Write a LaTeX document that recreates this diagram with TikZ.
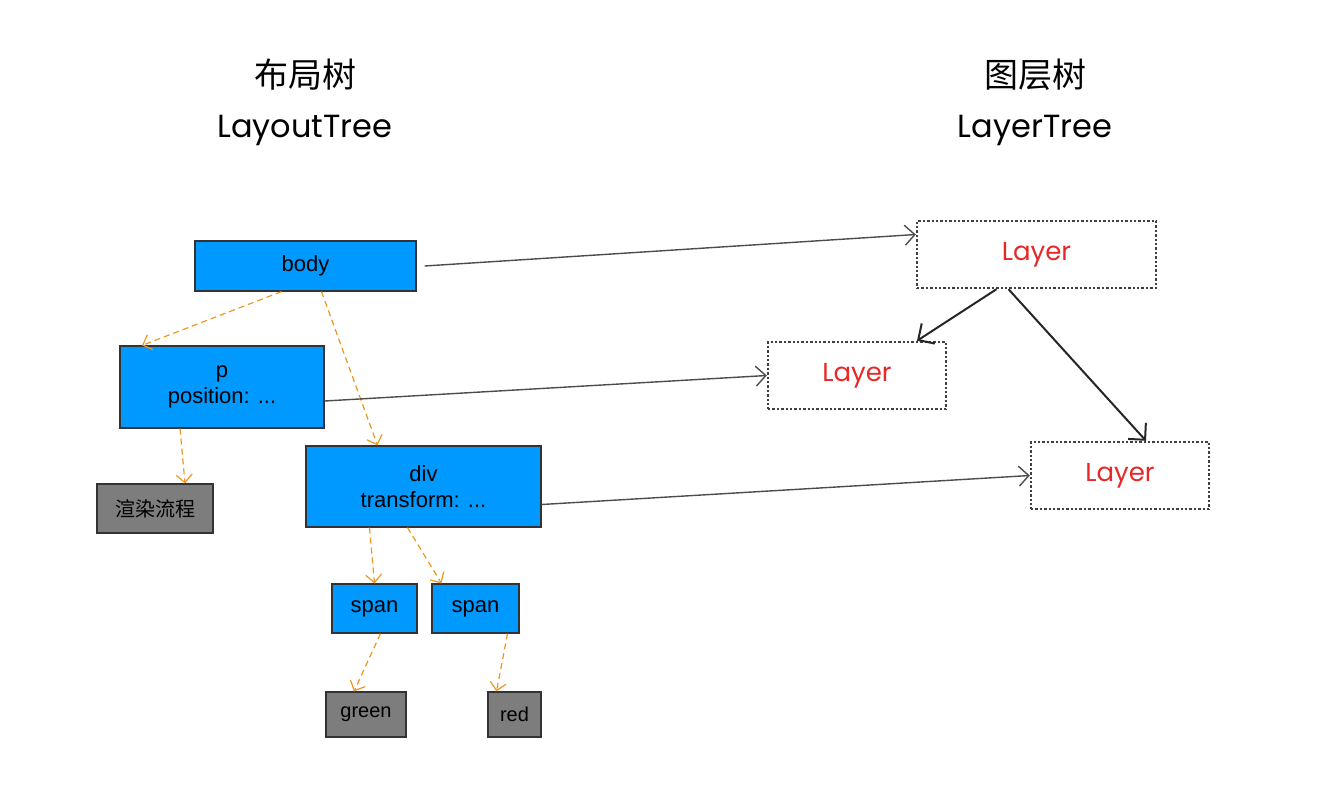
\documentclass[tikz,border=0pt]{standalone}
\usepackage{fontspec}
\setmainfont{Liberation Sans}
\newfontfamily\cjk{Noto Sans CJK SC}
\newfontfamily\ttl{Poppins}
\usetikzlibrary{arrows.meta}
\definecolor{bl}{RGB}{0,153,255}
\definecolor{gr}{RGB}{125,125,125}
\definecolor{og}{RGB}{240,150,30}
\definecolor{ly}{RGB}{230,40,40}
\begin{document}
\begin{tikzpicture}[x=0.5pt,y=-0.5pt,
 box/.style={draw=black!80,line width=0.6pt,inner sep=0pt,align=center,font=\fontsize{11}{13}\selectfont},
 blue/.style={box,fill=bl},
 grey/.style={box,fill=gr,font=\cjk\fontsize{10}{12}\selectfont},
 layer/.style={draw=black!75,densely dotted,line width=1.2pt,font=\ttl\fontsize{13}{15}\selectfont,text=ly,inner sep=0pt},
 oa/.style={og,densely dashed,line width=0.6pt,-{Straight Barb[length=4pt]}},
 ga/.style={black!70,line width=0.7pt,-{Straight Barb[length=5pt]}},
 ka/.style={black!85,line width=1pt,-{Straight Barb[length=6pt]}}]
\useasboundingbox (0,0) rectangle (1344,794);
\node[font=\cjk\fontsize{17}{20}\selectfont] (t1) at (305,75) {布局树};
\node[font=\ttl\fontsize{16}{19}\selectfont] (t2) at (305,130) {LayoutTree};
\node[font=\cjk\fontsize{17}{20}\selectfont] (t3) at (1035,75) {图层树};
\node[font=\ttl\fontsize{16}{19}\selectfont] (t4) at (1035,130) {LayerTree};
\node[blue,minimum width=110.5pt,minimum height=25pt] (body) at (305.5,266) {body};
\node[blue,minimum width=102pt,minimum height=41pt] (p) at (222,387) {p\\position: ...};
\node[grey,minimum width=58pt,minimum height=24.5pt] (r) at (155,508.5) {渲染流程};
\node[blue,minimum width=117.5pt,minimum height=40.5pt] (div) at (423.5,486.5) {div\\transform: ...};
\node[blue,minimum width=42.5pt,minimum height=24.5pt] (s1) at (374.5,608.5) {span};
\node[blue,minimum width=43.5pt,minimum height=24.5pt] (s2) at (475.5,608.5) {span};
\node[grey,font=\fontsize{10}{12}\selectfont,minimum width=40pt,minimum height=22.5pt] (g) at (366,714.5) {green};
\node[grey,font=\fontsize{10}{12}\selectfont,minimum width=26.5pt,minimum height=22.5pt] (rd) at (514.5,714.5) {red};
\node[layer,minimum width=119.5pt,minimum height=33.5pt] (L1) at (1036.5,254.5) {Layer};
\node[layer,minimum width=89pt,minimum height=33.5pt] (L2) at (857,375.5) {Layer};
\node[layer,minimum width=89pt,minimum height=33.5pt] (L3) at (1120,475.5) {Layer};
\draw[oa] ([xshift=-12]body.south) -- ([xshift=-40]p.north);
\draw[oa] ([xshift=8]body.south) -- ([xshift=-23]div.north);
\draw[oa] ([xshift=-21]p.south) -- ([xshift=15]r.north);
\draw[oa] ([xshift=-27]div.south) -- (s1.north);
\draw[oa] ([xshift=-8]div.south) -- ([xshift=-17]s2.north);
\draw[oa] ([xshift=3]s1.south) -- ([xshift=-6]g.north);
\draw[oa] ([xshift=16]s2.south) -- ([xshift=-9]rd.north);
\draw[ga] ([xshift=4]body.east) -- ([yshift=10]L1.west);
\draw[ga] ([yshift=-7]p.east) -- (L2.west);
\draw[ga] ([yshift=-9]div.east) -- (L3.west);
\draw[ka] ([xshift=-20]L1.south) -- ([xshift=30]L2.north);
\draw[ka] ([xshift=-14]L1.south) -- ([xshift=13]L3.north);
\end{tikzpicture}
\end{document}
